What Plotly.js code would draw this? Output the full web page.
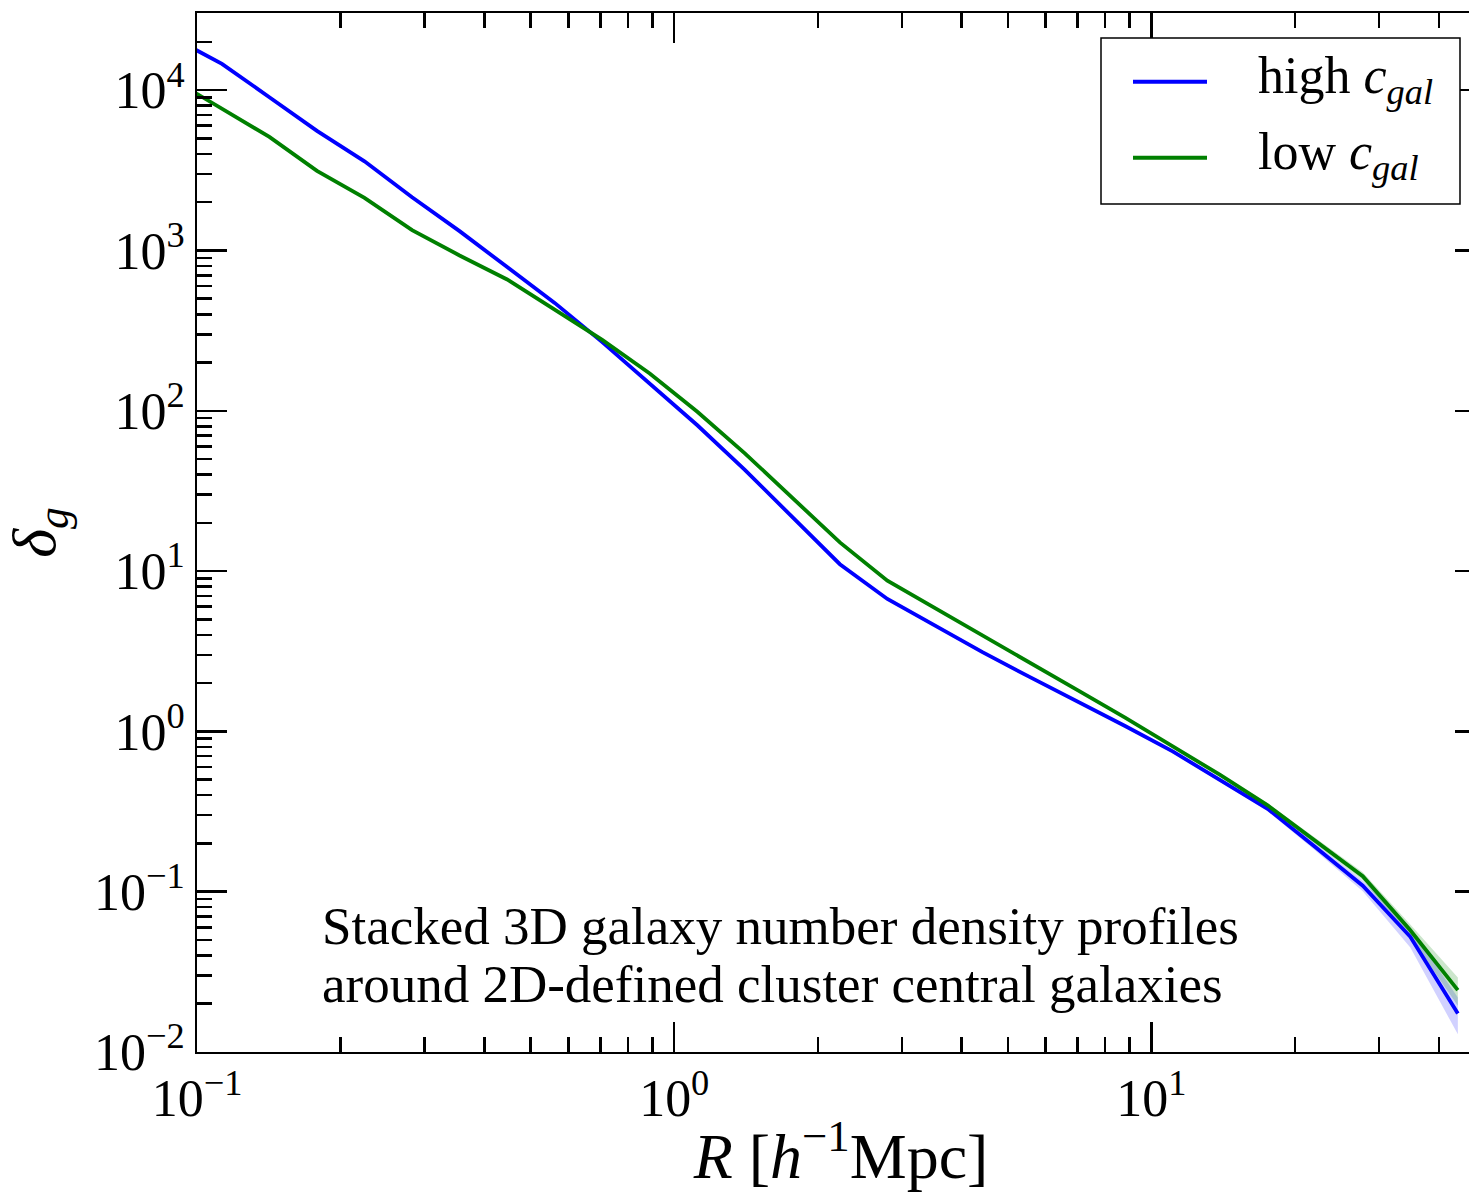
<!DOCTYPE html>
<html>
<head>
<meta charset="utf-8">
<script src="https://cdn.plot.ly/plotly-3.0.1.min.js"></script>
<style>
  html, body { margin: 0; padding: 0; background: #ffffff; overflow: hidden; }
  #chart { width: 1490px; height: 1192px; }
</style>
</head>
<body>
<div id="chart"></div>
<script>
// Radial bin centres R [h^-1 Mpc] (log-spaced)
const radius = [0.0897, 0.1128, 0.1418, 0.1784, 0.2244, 0.2823, 0.3550, 0.4466, 0.5617, 0.7066,
                0.8886, 1.118, 1.406, 1.768, 2.224, 2.797, 3.518, 4.425, 5.566, 7.001,
                8.806, 11.08, 13.93, 17.52, 22.04, 27.72, 34.87, 43.86];

// Stacked galaxy overdensity around high-concentration centrals
const deltaHigh = [2.10e4, 1.46e4, 9.04e3, 5.57e3, 3.60e3, 2.15e3, 1.32e3, 794, 471, 268,
                   147.6, 81.2, 42.8, 21.6, 11.04, 6.70, 4.56, 3.12, 2.18, 1.54,
                   1.08, 0.750, 0.497, 0.329, 0.190, 0.109, 0.0523, 0.0174];
const errHigh   = [210, 146, 90, 56, 36, 21, 13, 8, 4.7, 2.7,
                   1.5, 0.8, 0.43, 0.22, 0.11, 0.067, 0.04, 0.03, 0.025, 0.022,
                   0.024, 0.016, 0.014, 0.0118, 0.0095, 0.0082, 0.0075, 0.0045];

// Stacked galaxy overdensity around low-concentration centrals
const deltaLow  = [1.15e4, 7.70e3, 5.11e3, 3.14e3, 2.13e3, 1.34e3, 931, 659, 425, 277,
                   171, 98.6, 54.3, 28.7, 15.1, 8.71, 5.86, 3.96, 2.69, 1.81,
                   1.22, 0.807, 0.535, 0.346, 0.209, 0.125, 0.0574, 0.0243];
const errLow    = [115, 77, 51, 31, 21, 13, 9.3, 6.6, 4.2, 2.8,
                   1.7, 1.0, 0.54, 0.29, 0.15, 0.087, 0.04, 0.03, 0.02, 0.02,
                   0.02, 0.0175, 0.011, 0.010, 0.009, 0.007, 0.005, 0.0049];

// Axis ticks
const xTickVals = [0.1, 1, 10];
const xTickText = ['10<sup>\u22121</sup>', '10<sup>0</sup>', '10<sup>1</sup>'];
const yTickVals = [0.01, 0.1, 1, 10, 100, 1000, 10000];
const yTickText = ['10<sup>\u22122</sup>', '10<sup>\u22121</sup>', '10<sup>0</sup>', '10<sup>1</sup>',
                   '10<sup>2</sup>', '10<sup>3</sup>', '10<sup>4</sup>'];

// Axis extents
const xRange = [0.1, 50];
const yRange = [0.01, 3.03e4];

// Series labels and colours
const seriesNames = ['high <i>c</i><sub><i>gal</i></sub>', 'low <i>c</i><sub><i>gal</i></sub>'];
const lineColors  = ['#0000ff', '#008000'];
const bandColors  = ['rgba(0,0,255,0.18)', 'rgba(0,128,0,0.2)'];

const noteLines = ['Stacked 3D galaxy number density profiles',
                   'around 2D-defined cluster central galaxies'];

// The frame runs slightly past the right edge of the page, so only the
// tips of the right-hand ticks show.
const W = 1490, H = 1192;
const M = {l: 197, r: 5, t: 13, b: 140};
const PW = W - M.l - M.r, PH = H - M.t - M.b;
const px = x => (x - M.l) / PW;          // page px -> paper x
const py = y => (H - M.b - y) / PH;      // page px -> paper y

const serif = 'Liberation Serif, Times New Roman, serif';

function bandTraces(vals, errs, color) {
  const lo = vals.map((v, i) => v - errs[i]);
  const hi = vals.map((v, i) => v + errs[i]);
  return [
    {x: radius, y: lo, mode: 'lines', line: {width: 0, color: color}, hoverinfo: 'skip', showlegend: false},
    {x: radius, y: hi, mode: 'lines', line: {width: 0, color: color}, fill: 'tonexty',
     fillcolor: color, hoverinfo: 'skip', showlegend: false}
  ];
}

const traces = [
  ...bandTraces(deltaHigh, errHigh, bandColors[0]),
  ...bandTraces(deltaLow, errLow, bandColors[1]),
  {x: radius, y: deltaHigh, mode: 'lines', name: seriesNames[0],
   line: {color: lineColors[0], width: 3.8}, showlegend: false},
  {x: radius, y: deltaLow, mode: 'lines', name: seriesNames[1],
   line: {color: lineColors[1], width: 3.8}, showlegend: false}
];

const axisCommon = {
  type: 'log',
  showline: true, linecolor: '#000', linewidth: 2, mirror: 'ticks',
  ticks: 'inside', ticklen: 30, tickwidth: 2.5, tickcolor: '#000',
  tickmode: 'array',
  minor: {ticks: 'inside', ticklen: 15, tickwidth: 2.5, tickcolor: '#000', dtick: 'D1', showgrid: false},
  showgrid: false, zeroline: false,
  tickfont: {family: serif, size: 52, color: '#000'}
};

// Legend drawn as a framed box with line samples
const legendBox = {x0: 1101, x1: 1460, y0: 38, y1: 204};
const legendRows = [81.7, 157.7];

const shapes = [
  {type: 'rect', xref: 'paper', yref: 'paper',
   x0: px(legendBox.x0), x1: px(legendBox.x1), y0: py(legendBox.y1), y1: py(legendBox.y0),
   line: {color: '#000', width: 1.5}, fillcolor: '#fff', layer: 'above'}
];
legendRows.forEach((ry, i) => {
  shapes.push({type: 'line', xref: 'paper', yref: 'paper',
    x0: px(1133), x1: px(1207), y0: py(ry), y1: py(ry),
    line: {color: lineColors[i], width: 4}, layer: 'above'});
});

const annotations = legendRows.map((ry, i) => ({
  xref: 'paper', yref: 'paper', x: px(1256), y: py(ry - 2),
  xanchor: 'left', yanchor: 'middle', showarrow: false,
  text: seriesNames[i], font: {family: serif, size: 52, color: '#000'}
}));
noteLines.forEach((t, i) => {
  annotations.push({xref: 'paper', yref: 'paper', x: px(320), y: py(926 + i * 58),
    xanchor: 'left', yanchor: 'middle', showarrow: false,
    text: t, font: {family: serif, size: 53, color: '#000'}});
});

const layout = {
  width: W, height: H,
  margin: M,
  paper_bgcolor: '#fff', plot_bgcolor: '#fff',
  showlegend: false,
  xaxis: Object.assign({}, axisCommon, {
    range: xRange.map(Math.log10), tickvals: xTickVals, ticktext: xTickText,
    title: {text: '<i>R</i> [<i>h</i><sup>\u22121</sup>Mpc]', font: {family: serif, size: 64, color: '#000'}, standoff: 14}
  }),
  yaxis: Object.assign({}, axisCommon, {
    range: yRange.map(Math.log10), tickvals: yTickVals, ticktext: yTickText,
    title: {text: '<i>\u03b4</i><sub><i>g</i></sub>', font: {family: serif, size: 62, color: '#000'}, standoff: 20}
  }),
  shapes: shapes,
  annotations: annotations
};

Plotly.newPlot('chart', traces, layout, {staticPlot: true, displayModeBar: false});
</script>
</body>
</html>
